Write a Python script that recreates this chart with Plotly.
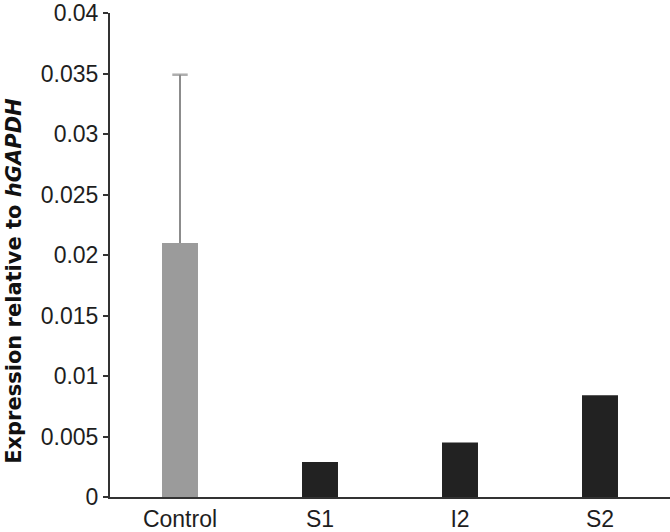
import plotly.graph_objects as go

categories = ["Control", "S1", "I2", "S2"]
values = [0.021, 0.0029, 0.0045, 0.0084]
errors_plus = [0.0139, 0.0, 0.0, 0.0]
bar_colors = ["#9b9b9b", "#222222", "#222222", "#222222"]
y_ticks = [0, 0.005, 0.01, 0.015, 0.02, 0.025, 0.03, 0.035, 0.04]
y_tick_labels = ["0", "0.005", "0.01", "0.015", "0.02", "0.025", "0.03", "0.035", "0.04"]
y_title = "<b>Expression relative to <i>hGAPDH</i></b>"

fig = go.Figure()
fig.add_trace(
    go.Bar(
        x=categories,
        y=values,
        width=0.257,
        marker=dict(color=bar_colors, line=dict(width=0)),
        showlegend=False,
    )
)

# upper-only error bars (line from bar top to value+error, cap at the top)
for cat, v, e in zip(categories, values, errors_plus):
    if e > 0:
        fig.add_trace(
            go.Scatter(
                x=[cat, cat],
                y=[v, v + e],
                mode="lines+markers",
                line=dict(color="#8c8c8c", width=2),
                marker=dict(
                    symbol="line-ew",
                    size=[0, 11],
                    line=dict(color="#8c8c8c", width=2.5),
                ),
                showlegend=False,
                hoverinfo="skip",
            )
        )

fig.update_layout(
    width=670,
    height=532,
    margin=dict(l=110, r=0, t=13, b=35),
    paper_bgcolor="white",
    plot_bgcolor="white",
    font=dict(family="Liberation Sans, Arial, sans-serif", size=23, color="#1e1e1e"),
    showlegend=False,
    barmode="overlay",
)
fig.update_xaxes(
    range=[-0.5, 3.5],
    showline=True,
    linecolor="#333333",
    linewidth=2,
    ticks="",
    showgrid=False,
    automargin=False,
    tickfont=dict(size=23),
)
fig.update_yaxes(
    range=[0, 0.04],
    tickvals=y_ticks,
    ticktext=y_tick_labels,
    showline=True,
    linecolor="#333333",
    linewidth=2,
    ticks="outside",
    ticklen=5,
    tickwidth=2,
    tickcolor="#333333",
    showgrid=False,
    zeroline=False,
    automargin=False,
    tickfont=dict(size=23),
)
fig.add_annotation(
    text=y_title,
    textangle=-90,
    xref="paper",
    yref="paper",
    x=-0.172,
    y=0.446,
    xanchor="center",
    yanchor="middle",
    showarrow=False,
    font=dict(family="DejaVu Sans, sans-serif", size=21, color="#111111"),
)

fig.write_html(
    "out.html",
    config={"displayModeBar": False},
    post_script="document.body.style.margin='0px';",
)
